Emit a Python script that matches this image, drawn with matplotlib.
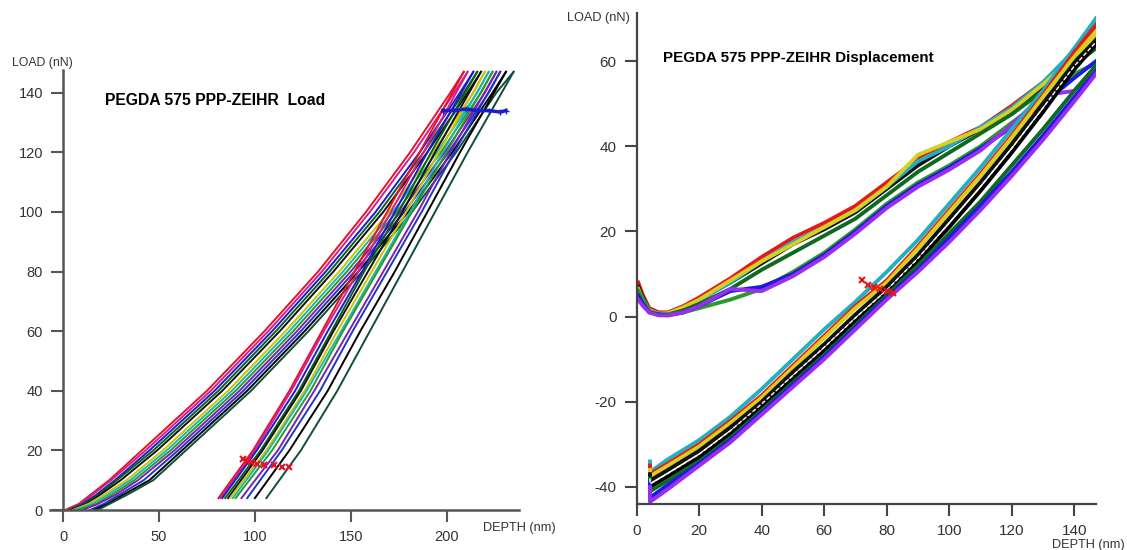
import matplotlib.pyplot as plt

plt.rcParams['font.family'] = ['Liberation Sans', 'DejaVu Sans']
plt.rcParams['axes.unicode_minus'] = False

# ---------------- left panel: load vs depth ----------------
# loads at which the loading branches were read
load_up = [0, 2, 5, 10, 20, 40, 60, 80, 100, 120, 140, 147]
# depth (nm) of each loading branch at those loads
depth_up = [
    [1, 8, 14, 24, 41, 75, 105, 133, 158, 181, 202, 209],
    [2, 9, 15, 25, 43, 77, 107, 135, 160, 183, 204, 211],
    [3, 10, 17, 27, 45, 79, 109, 137, 163, 186, 207, 214],
    [3, 11, 18, 28, 47, 81, 111, 139, 165, 188, 209, 216],
    [4, 12, 19, 30, 49, 83, 113, 141, 167, 190, 211, 218],
    [5, 13, 21, 33, 52, 86, 116, 144, 170, 193, 214, 220],
    [6, 15, 23, 35, 54, 88, 118, 146, 172, 195, 216, 222],
    [8, 17, 25, 37, 56, 90, 120, 148, 174, 197, 218, 224],
    [10, 18, 27, 39, 58, 92, 122, 150, 176, 199, 220, 226],
    [14, 21, 29, 42, 60, 94, 124, 152, 178, 201, 222, 228],
    [16, 23, 31, 45, 62, 96, 126, 154, 180, 203, 224, 231],
    [18, 24, 33, 47, 64, 98, 128, 156, 182, 205, 226, 235],
]
# loads at which the unloading branches were read
load_down = [147, 120, 100, 80, 60, 40, 20, 4]
depth_down = [
    [209, 186, 169, 152, 135, 118, 99, 81],
    [211, 188, 171, 154, 136, 119, 100, 82],
    [214, 190, 173, 156, 138, 121, 101, 83],
    [216, 192, 175, 157, 140, 123, 103, 84.5],
    [218, 194, 177, 159, 141, 124, 104, 86],
    [220, 196, 179, 161, 143, 126, 106, 87],
    [222, 198, 181, 163, 145, 127, 107, 88.5],
    [224, 200, 182, 164, 146, 129, 109, 90],
    [226, 202, 185, 167, 149, 131, 112, 93],
    [228, 204, 187, 169, 151, 134, 114, 96],
    [231, 207, 190, 173, 155, 138, 118, 100],
    [235, 211, 194, 177, 160, 143, 124, 106],
]
left_colors = ['#e8102a', '#d0208c', '#1c1cc8', '#0b5e1e', '#111111', '#c8c400',
               '#1fb4b4', '#2a9a2a', '#7a22b0', '#2434c8', '#000000', '#0f4f3a']

# hold segment near top and red markers near bottom
hold_depth = [198, 204, 210, 216, 222, 228, 231]
hold_load = [134, 134, 134.5, 134, 134, 133.5, 134]
mark_depth = [94, 96, 98, 101, 105, 110, 114, 118]
mark_load = [17, 16.5, 16, 15.5, 15, 15, 14.5, 14.5]

# ---------------- right panel: displacement ----------------
dr_up = [0.5, 2, 4, 7, 10, 15, 20, 30, 40, 50, 60, 70, 80, 90, 100, 110, 120, 130, 140, 147]
upper_curves = [
    [8, 5, 2, 1, 1, 2.5, 4.5, 9, 14, 18.5, 22, 26, 31.5, 37, 41, 44.5, 49.5, 55, 62, 68],
    [7, 4.5, 1.5, 0.8, 0.8, 2, 4, 8, 12.5, 17, 20.5, 24.5, 30, 35.5, 40, 44, 48.5, 54, 60.5, 65.5],
    [6, 4, 1.5, 0.7, 0.7, 2, 3.8, 8, 13, 17.5, 21, 25, 30.5, 36.5, 40, 44.5, 49, 55, 62.5, 70],
    [6.5, 4, 1.5, 0.7, 0.8, 2.2, 4, 8.5, 13, 17, 21, 25, 30.5, 38, 41, 44, 48.5, 54.5, 61, 66],
    [6, 4, 1.2, 0.5, 0.5, 1.5, 3, 6.5, 11, 15, 19, 23, 28.5, 34, 38.5, 43, 47.5, 53, 59, 63],
    [6, 4, 1.3, 0.6, 0.5, 1.0, 2.0, 4.0, 6.5, 10.5, 15, 20.5, 26.5, 31.5, 35.5, 40, 45.5, 51, 57, 59.5],
    [5, 3, 1, 0.5, 0.3, 1, 2.5, 6, 7, 10, 14.5, 20, 26, 31, 35, 39.5, 44.5, 50, 56, 60],
    [4, 2.5, 1, 0.3, 0.3, 1, 2.5, 6.5, 6, 9.5, 14, 19.5, 25.5, 30.5, 34.5, 39, 45, 52, 53, 58],
]
upper_colors = ['#e81818', '#111111', '#22b0c0', '#d8d020', '#0e6a20', '#2a9a2a', '#1a1ae0', '#9a2ef0']

dr_low = [4.25, 4.25, 10, 20, 30, 40, 50, 60, 70, 80, 90, 100, 110, 120, 130, 140, 147]
lower_curves = [
    [-34, -36.5, -33.5, -29, -23.5, -17, -10, -3, 3.5, 10.5, 18, 26.5, 35, 44, 53, 63, 70],
    [-35, -37, -34.5, -30, -24.5, -18.5, -11.5, -4.5, 2.5, 8.5, 16.5, 25, 33.5, 42.5, 52, 62, 68.5],
    [-36, -37.5, -35, -30.5, -25, -19, -12, -5, 2, 8, 16, 24.5, 33, 42, 51.5, 61, 67],
    [-37, -38.5, -36, -31.5, -26, -20, -13, -6.5, 0.5, 7, 14.5, 23, 31.5, 40.5, 50, 59.5, 65],
    [-38, -40, -37.5, -33, -27.5, -21, -14.5, -8, -1, 5.5, 13, 21, 29.5, 38.5, 48, 58, 64],
    [-38, -41, -38.5, -34, -28.5, -22, -15.5, -9, -2, 5, 12, 19.5, 27, 35.5, 44, 53, 59],
    [-39, -42.5, -39.5, -34.5, -29, -22.5, -16, -9.5, -2.5, 4.5, 11, 18.5, 26, 34, 42.5, 51.5, 57.5],
    [-40, -43.5, -40.5, -35, -29.5, -23, -16.5, -10, -3, 4, 10.5, 17.5, 25, 33, 41.5, 50.5, 57],
]
lower_colors = ['#22b0c0', '#e81818', '#d8d020', '#111111', '#000000', '#0e6a20', '#1a1ae0', '#9a2ef0']
white_line = [-38, -39.3, -36.8, -32.3, -26.8, -20.5, -13.8, -7.2, -0.3, 6.2, 13.7, 22, 30.5, 39.5, 49, 58.8, 64.5]

xmark_depth = [72, 74, 76, 78, 80, 82]
xmark_load = [8.5, 7.5, 7, 6.5, 6, 5.5]

AXIS_GRAY = '#555555'
TEXT_DARK = '#333333'

fig = plt.figure(figsize=(11.27, 5.5), dpi=100, facecolor='white')

# ---- left axes ----
ax1 = fig.add_axes([50 / 1127, 40 / 550, 469 / 1127, 440 / 550])
for d, c in zip(depth_up, left_colors):
    ax1.plot(d, load_up, color=c, lw=1.4)
for d, c in zip(depth_down, left_colors):
    ax1.plot(d, load_down, color=c, lw=1.4)
ax1.plot(hold_depth, hold_load, color='#1c1cc8', lw=2.5, marker='+', ms=5)
ax1.plot(mark_depth, mark_load, color='#e8102a', lw=1.5, ls='none', marker='x', ms=5, mew=1.5)

ax1.set_xlim(-6.9, 237.8)
ax1.set_ylim(0, 147.6)
ax1.spines['left'].set_position(('data', 0))
ax1.spines['top'].set_visible(False)
ax1.spines['right'].set_visible(False)
for s in ['left', 'bottom']:
    ax1.spines[s].set_color(AXIS_GRAY)
    ax1.spines[s].set_linewidth(1.8)
ax1.set_xticks([0, 50, 100, 150, 200])
ax1.set_yticks(range(0, 141, 20))
ax1.tick_params(axis='both', direction='out', length=8.5, width=1.5, color=AXIS_GRAY,
                labelsize=10.5, labelcolor=TEXT_DARK, pad=6)

fig.text(105 / 1127, 1 - 100 / 550, 'PEGDA 575 PPP-ZEIHR  Load', fontsize=11.3,
         fontweight='bold', va='center', ha='left', color='black')
fig.text(42 / 1127, 1 - 63 / 550, 'LOAD (nN)', fontsize=8.8, ha='center', va='center', color=TEXT_DARK)
fig.text(483 / 1127, 1 - 528 / 550, 'DEPTH (nm)', fontsize=9.2, ha='left', va='center', color=TEXT_DARK)

# ---- right axes ----
ax2 = fig.add_axes([636.7 / 1127, 46 / 550, 459.3 / 1127, 491 / 550])
for y, c in zip(upper_curves, upper_colors):
    ax2.plot(dr_up, y, color=c, lw=2.8)
for y, c in zip(lower_curves, lower_colors):
    ax2.plot(dr_low, y, color=c, lw=2.8)
ax2.plot(dr_low, white_line, color='white', lw=1.0, ls=(0, (3, 1.5)))
ax2.plot(xmark_depth, xmark_load, color='#e81818', ls='none', marker='x', ms=5, mew=1.5)

ax2.set_xlim(0, 147)
ax2.set_ylim(-44, 71.3)
ax2.spines['top'].set_visible(False)
ax2.spines['right'].set_visible(False)
for s in ['left', 'bottom']:
    ax2.spines[s].set_color('#444444')
    ax2.spines[s].set_linewidth(1.6)
ax2.set_xticks(range(0, 141, 20))
ax2.set_yticks(range(-40, 61, 20))
ax2.tick_params(axis='both', direction='out', length=8.5, width=1.5, color='#444444',
                labelsize=11, labelcolor=TEXT_DARK, pad=6)

fig.text(663 / 1127, 1 - 58 / 550, 'PEGDA 575 PPP-ZEIHR Displacement', fontsize=10.9,
         fontweight='bold', va='center', ha='left', color='black')
fig.text(598 / 1127, 1 - 18 / 550, 'LOAD (nN)', fontsize=9.2, ha='center', va='center', color=TEXT_DARK)
fig.text(1125 / 1127, 1 - 545 / 550, 'DEPTH (nm)', fontsize=9.2, ha='right', va='center', color=TEXT_DARK)

fig.savefig('out.png', dpi=100, facecolor='white')
plt.close(fig)
